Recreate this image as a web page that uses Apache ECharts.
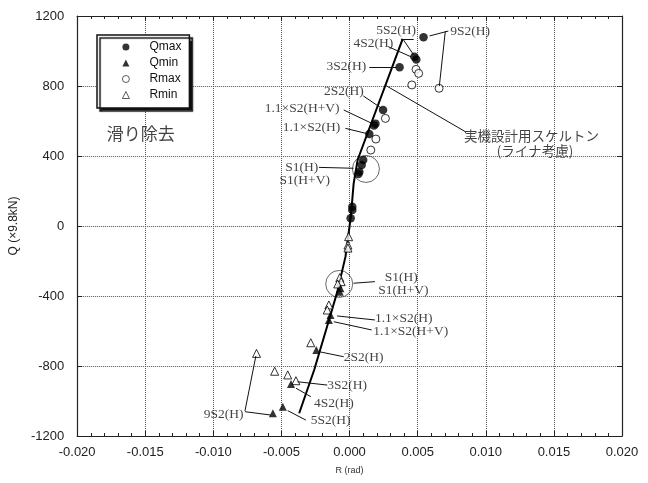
<!DOCTYPE html>
<html><head><meta charset="utf-8">
<script src="https://cdn.jsdelivr.net/npm/echarts@6/dist/echarts.min.js"></script>
<style>html,body{margin:0;padding:0;background:#fff}#c{width:648px;height:483px}</style>
</head><body><div id="c"></div>
<script>
// ---- data (R in rad, Q in x9.8kN) ----
const qmax = [[0.00543,1078],[0.00476,967],[0.00490,952],[0.00367,907],[0.00246,663],
  [0.00180,575],[0.00190,585],[0.00145,526],[0.00100,377],[0.00089,349],[0.00072,310],
  [0.00065,297],[0.00020,110],[0.00020,91],[0.00008,44]];
const qmin = [[-0.00067,-356],[-0.00072,-375],[-0.00140,-509],[-0.00152,-537],[-0.00244,-709],
  [-0.00430,-903],[-0.00490,-1033],[-0.00563,-1070]];
const rmax = [[0.00657,787],[0.00488,895],[0.00507,872],[0.00457,806],[0.00263,615],
  [0.00193,497],[0.00156,434]];
const rmin = [[-0.00683,-728],[-0.00550,-830],[-0.00454,-851],[-0.00394,-884],[-0.00285,-667],
  [-0.00152,-451],[-0.00164,-480],[-0.00072,-295],[-0.00062,-318],[-0.00087,-331],
  [-0.00007,-61],[-0.00012,-109],[-0.00012,-126]];
const skeleton = [[-0.0037,-1070],[-0.0026,-823],[-0.0014,-509],[-0.0009,-375],[-0.0003,-175],
  [-0.0001,-60],[0.0001,60],[0.0003,244],[0.0006,380],[0.0039,1069]];
const rings = [[0.0012,326],[-0.00076,-331]];
const xTickLabels = ['-0.020','-0.015','-0.010','-0.005','0.000','0.005','0.010','0.015','0.020'];
const yTickLabels = ['-1200','-800','-400','0','400','800','1200'];
const legendNames = ['Qmax','Qmin','Rmax','Rmin'];
// annotation texts: [x, y, text]
const notes = [
  [0.001957,1120,'5S2(H)'],[0.00739,1114,'9S2(H)'],[0.00029,1044,'4S2(H)'],
  [-0.00169,914,'3S2(H)'],[-0.00188,767,'2S2(H)'],[-0.00623,669,'1.1×S2(H+V)'],
  [-0.00491,564,'1.1×S2(H)'],[-0.00473,335,'S1(H)'],[-0.00514,263,'S1(H+V)'],
  [0.00259,-295,'S1(H)'],[0.00210,-366,'S1(H+V)'],[0.00186,-527,'1.1×S2(H)'],
  [0.00174,-600,'1.1×S2(H+V)'],[-0.00043,-750,'2S2(H)'],[-0.00164,-909,'3S2(H)'],
  [-0.00261,-1013,'4S2(H)'],[-0.00285,-1113,'5S2(H)'],[-0.0107,-1076,'9S2(H)']
];
const jpNotes = [[0.0084,514,'実機設計用スケルトン',13.5],[0.0108,429,'(ライナ考慮)',13.5],[-0.01783,531,'滑り除去',17]];
// leader lines: [x1,y1,x2,y2]
const leaders = [
  [0.00725,1114,0.00587,1086],[0.00703,1114,0.00659,800],
  [0.00377,1069,0.00471,1069],[0.00391,1069,0.00471,977],
  [0.00283,1025,0.00451,967],[0.00145,907,0.00343,907],
  [0.00101,743,0.00234,673],[-0.00043,663,0.00162,587],
  [-0.00031,558,0.00138,526],[-0.00225,335,0.00029,330],
  [0.00259,806,0.0085,539],
  [0.00029,-327,0.00186,-318],[-0.00092,-514,0.00186,-537],
  [-0.00116,-547,0.00162,-594],[-0.00225,-718,-0.00043,-747],
  [-0.00382,-890,-0.00164,-909],[-0.00393,-927,-0.00285,-975],
  [-0.00454,-1055,-0.00321,-1109],[-0.00768,-1057,-0.00688,-743],
  [-0.00768,-1061,-0.0058,-1080]
];

const chart = echarts.init(document.getElementById('c'), null, {renderer:'canvas'});
const axisFont = {fontFamily:'Liberation Sans, Arial, sans-serif', fontSize:13, color:'#222'};
const fmtX = v => { const i = Math.round((v + 0.02) / 0.005); return xTickLabels[i] ?? ''; };
const fmtY = v => { const i = Math.round((v + 1200) / 400); return yTickLabels[i] ?? ''; };
const xBase = {type:'value', min:-0.02, max:0.02, interval:0.005};
const yBase = {type:'value', min:-1200, max:1200, interval:400};
const lineBlack = {show:true, onZero:false, lineStyle:{color:'#222', width:1.2}};

const option = {
  backgroundColor:'#fff',
  animation:false,
  grid:{left:70, right:26, top:16, bottom:47, containLabel:false},
  xAxis:[
    Object.assign({}, xBase, {position:'bottom', axisLine:lineBlack,
      axisTick:{show:true, inside:true, length:5, lineStyle:{color:'#222'}},
      minorTick:{show:true, splitNumber:5, length:3, lineStyle:{color:'#222'}},
      axisLabel:Object.assign({formatter:fmtX, margin:10}, axisFont),
      splitLine:{show:true, lineStyle:{type:'dotted', color:'#555', width:1}},
      name:'R (rad)', nameLocation:'middle', nameGap:30,
      nameTextStyle:{fontFamily:'Liberation Sans, Arial, sans-serif', fontSize:9, color:'#333'}}),
    Object.assign({}, xBase, {position:'top', axisLine:lineBlack,
      axisTick:{show:true, inside:true, length:5, lineStyle:{color:'#222'}},
      minorTick:{show:true, splitNumber:5, length:3, lineStyle:{color:'#222'}},
      axisLabel:{show:false}, splitLine:{show:false}})
  ],
  yAxis:[
    Object.assign({}, yBase, {position:'left', axisLine:lineBlack,
      axisTick:{show:true, inside:true, length:5, lineStyle:{color:'#222'}},
      axisLabel:Object.assign({formatter:fmtY, margin:13}, axisFont),
      splitLine:{show:true, lineStyle:{type:'dotted', color:'#555', width:1}},
      name:'Q (×9.8kN)', nameLocation:'middle', nameGap:50, nameRotate:90,
      nameTextStyle:{fontFamily:'Liberation Sans, Arial, sans-serif', fontSize:12, color:'#222'}}),
    Object.assign({}, yBase, {position:'right', axisLine:lineBlack,
      axisTick:{show:true, inside:true, length:5, lineStyle:{color:'#222'}},
      axisLabel:{show:false}, splitLine:{show:false}})
  ],
  legend:{
    data:legendNames.map(n => ({name:n, itemStyle: n.startsWith('R') ? {borderWidth:0.8} : {}})),
    orient:'vertical', left:97, top:35,
    padding:[5,8,6,25], itemGap:2, itemWidth:7, itemHeight:7,
    backgroundColor:'#fff', borderColor:'#111', borderWidth:1.5,
    shadowColor:'#111', shadowOffsetX:3, shadowOffsetY:3, shadowBlur:1,
    textStyle:{fontFamily:'Liberation Sans, Arial, sans-serif', fontSize:12, color:'#111',
      lineHeight:14, padding:[0,0,0,15]},
    selectedMode:false
  },
  series:[
    {type:'line', name:'skeleton', data:skeleton, showSymbol:false, symbol:'none',
      lineStyle:{color:'#000', width:2}, silent:true, z:3},
    {type:'scatter', name:'rings', data:rings, symbol:'circle', symbolSize:27,
      itemStyle:{color:'rgba(0,0,0,0)', borderColor:'#444', borderWidth:1}, silent:true, z:2},
    {type:'scatter', name:'notes', data:notes.map(n=>({value:[n[0],n[1]], name:n[2]})),
      symbolSize:0, itemStyle:{color:'rgba(0,0,0,0)'}, silent:true, z:6,
      label:{show:true, position:'right', distance:0, formatter:'{b}',
        fontFamily:'Liberation Serif, Times New Roman, serif', fontSize:13.5, color:'#111'},
      markLine:{silent:true, symbol:['none','none'], animation:false,
        label:{show:false}, lineStyle:{color:'#111', width:1, type:'solid'},
        emphasis:{disabled:true},
        data:leaders.map(l=>[{coord:[l[0],l[1]]},{coord:[l[2],l[3]]}])}},
    {type:'scatter', name:'jp', data:jpNotes.map(n=>({value:[n[0],n[1]], name:n[2],
        label:{fontSize:n[3]}})),
      symbolSize:0, itemStyle:{color:'rgba(0,0,0,0)'}, silent:true, z:6,
      label:{show:true, position:'right', distance:0, formatter:'{b}',
        fontFamily:'Noto Sans CJK JP, sans-serif', color:'#111'}},
    {type:'scatter', name:'Qmax', data:qmax, symbol:'circle', symbolSize:8.5,
      itemStyle:{color:'#000'}, z:5},
    {type:'scatter', name:'Qmin', data:qmin, symbol:'triangle', symbolSize:8,
      itemStyle:{color:'#000'}, z:5},
    {type:'scatter', name:'Rmax', data:rmax, symbol:'circle', symbolSize:8,
      itemStyle:{color:'#fff', borderColor:'#000', borderWidth:1}, z:4},
    {type:'scatter', name:'Rmin', data:rmin, symbol:'triangle', symbolSize:8,
      itemStyle:{color:'#fff', borderColor:'#000', borderWidth:1}, z:4}
  ]
};
chart.setOption(option);
</script>
</body></html>
